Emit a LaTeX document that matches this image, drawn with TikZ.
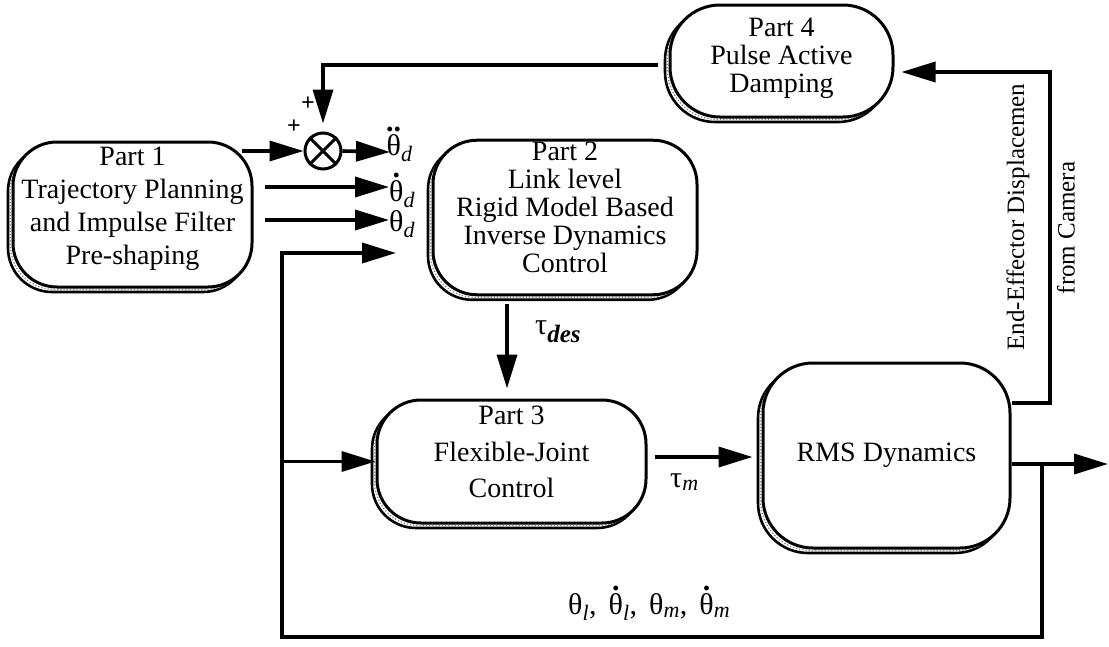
\documentclass[tikz,border=0pt]{standalone}
\usepackage{fontspec}
\setmainfont{Liberation Serif}
\usetikzlibrary{arrows.meta,calc,shadows}
\newcommand\myth{\hbox{θ}}
\newcommand\mytau{\hbox{τ}}
\newcommand\dotth[1]{\vbox{\offinterlineskip\halign{\hfil##\hfil\cr\hbox{\fontsize{30}{30}\selectfont\bfseries #1}\cr\noalign{\kern2pt}\hbox{θ}\cr}}}
\newcommand\mysb[1]{\hbox{\fontsize{22}{22}\selectfont\itshape #1}}
\newcommand\mysbb[1]{\hbox{\fontsize{25}{25}\selectfont\bfseries\itshape #1}}
\newcommand\mysep{\hbox{,}\hskip 12pt}
\begin{document}
\begin{tikzpicture}[x=1pt,y=-1pt,
  arr/.style={line width=3.6pt,-{Triangle[length=34pt,width=20pt]}},
  blk/.style={draw,line width=3pt,fill=white,rounded corners=44pt,align=center,inner sep=2pt,
    font=\fontsize{28}{28}\selectfont,
    copy shadow={shadow xshift=-5pt,shadow yshift=-5pt,draw=black,fill=white,line width=2.6pt},
    copy shadow={shadow xshift=-2.5pt,shadow yshift=-2.5pt,draw=gray,dotted,line width=1.2pt}},
  lab/.style={inner sep=0pt,font=\fontsize{30}{34}\selectfont},
  sumnode/.style={circle,draw,line width=3pt,minimum size=36pt,inner sep=0pt},
]
\useasboundingbox (0,0) rectangle (1109,646);

% blocks
\node[blk,minimum width=239pt,minimum height=145pt,text depth=18pt,font=\fontsize{28}{33}\selectfont] (p1) at (132.5,214.5)
  {Part 1\\Trajectory Planning\\and Impulse Filter\\Pre-shaping};
\node[blk,minimum width=264pt,minimum height=139pt,text depth=20pt] (p2) at (565,217.5)
  {Part 2\\Link level\\Rigid Model Based\\Inverse Dynamics\\Control};
\node[blk,minimum width=269pt,minimum height=123pt,text depth=19pt,font=\fontsize{28}{36.5}\selectfont] (p3) at (511.5,461.5)
  {Part 3\\Flexible-Joint\\Control};
\node[blk,minimum width=223pt,minimum height=112pt,text depth=11pt,rounded corners=50pt] (p4) at (781.5,61)
  {Part 4\\Pulse Active\\Damping};
\node[blk,minimum width=247pt,minimum height=185pt,rounded corners=50pt] (rms) at (886.5,455.5)
  {RMS Dynamics};

% summing junction
\node[sumnode] (sum) at (323,151) {};
\draw[line width=3pt] (sum.north west) -- (sum.south east) (sum.north east) -- (sum.south west);
\node[lab,font=\fontsize{24}{24}\selectfont\bfseries] (pl1) at (294,127) {+};
\node[lab,font=\fontsize{24}{24}\selectfont\bfseries] (pl2) at (308,104) {+};

% free ends
\coordinate (eDD) at (390,152);
\coordinate (s1) at (265,187);
\coordinate (e1) at (389,187);
\coordinate (s0) at (265,220);
\coordinate (e0) at (389,220);
\coordinate (fbL) at (282,253);
\coordinate (fbE) at (396,253);
\coordinate (fbBL) at (282,637);
\coordinate (oj) at (1042,464);
\coordinate (out) at (1108,464);
\coordinate (fbR) at (1050,403);

% labels
\node[lab,anchor=base west] (tdd) at (386,155) {$\dotth{..}_{\mysb{d}}$};
\node[lab,anchor=base west] (td1) at (389,201) {$\dotth{.}_{\mysb{d}}$};
\node[lab,anchor=base west] (td0) at (389,231) {$\myth_{\mysb{d}}$};
\node[lab,anchor=base west] (taudes) at (535,334) {$\mytau_{\mysbb{des}}$};
\node[lab,anchor=base west] (taum) at (670,487) {$\mytau_{\mysb{m}}$};
\node[lab,anchor=base west] (fbl) at (568,614)
  {$\myth_{\mysb{l}}\mysep\dotth{.}_{\mysb{l}}\mysep\myth_{\mysb{m}}\mysep\dotth{.}_{\mysb{m}}$};
\node[lab,rotate=90,font=\fontsize{25}{25}\selectfont] (ee1) at (1018,217) {End-Effector Displacemen};
\node[lab,rotate=90,font=\fontsize{25}{25}\selectfont] (ee2) at (1066,228) {from Camera};

% connectors
\draw[arr] ($(sum.west -| p1.east)+(-12,0)$) -- (sum.west);
\draw[arr] ($(p4.west)+(-11,4)$) -| ($(sum.north)+(0,-8)$);
\draw[arr] (sum.east) -- (eDD);
\draw[arr] (s1) -- (e1);
\draw[arr] (s0) -- (e0);
\draw[arr] (oj) |- (fbBL) -- (fbL) -- (fbE);
\draw[arr] (fbL |- p3.west) -- (p3.west);
\draw[arr] ($(p3.north |- p2.south)+(-4.5,8)$) -- ($(p3.north)+(-4.5,-10)$);
\draw[arr] ($(p3.east)+(7,-4.5)$) -- ($(rms.west |- p3.east)+(-9,-4.5)$);
\draw[arr] (rms.east |- out) -- (out);
\draw[arr] (fbR -| rms.east) -- (fbR) |- ($(p4.east)+(7,11)$);
\end{tikzpicture}
\end{document}
